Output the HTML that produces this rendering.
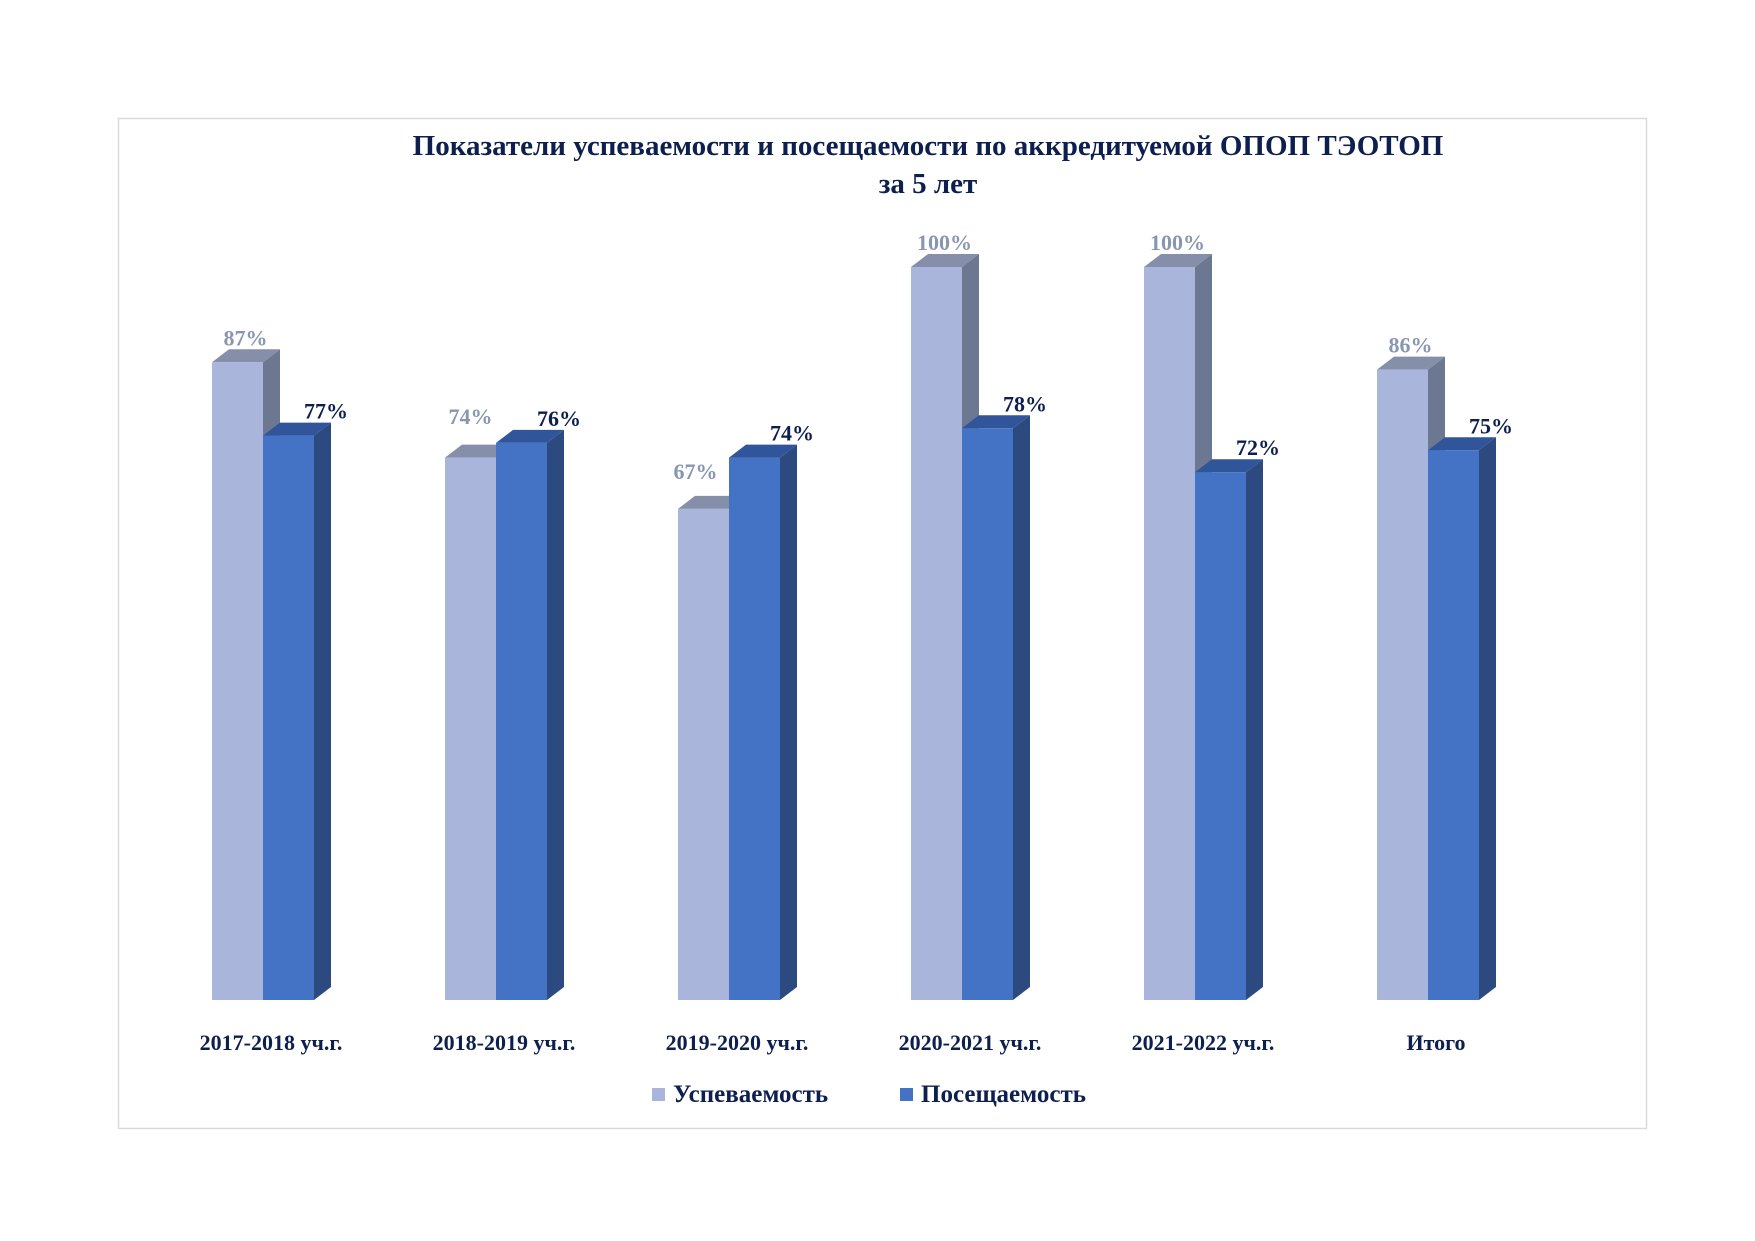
<!DOCTYPE html>
<html><head><meta charset="utf-8"><style>
html,body{margin:0;padding:0;background:#fff;}
svg{display:block;}
text{font-family:"Liberation Serif",serif;font-weight:bold;}
</style></head><body>
<svg id="chart" width="1755" height="1241" viewBox="0 0 1755 1241">
<rect x="118.5" y="118.5" width="1528" height="1010" fill="#fff" stroke="#d9d9d9" stroke-width="1.5"/>
<text x="928" y="155" text-anchor="middle" font-size="29" fill="#0D1F4F">Показатели успеваемости и посещаемости по аккредитуемой ОПОП ТЭОТОП</text>
<text x="928" y="193" text-anchor="middle" font-size="29" fill="#0D1F4F">за 5 лет</text>
<g id="bars"></g>
<g>
<rect x="652" y="1088" width="13" height="13" fill="#A9B5DA"/>
<text x="673" y="1102" font-size="25" fill="#0D1F4F">Успеваемость</text>
<rect x="900" y="1088" width="13" height="13" fill="#4472C4"/>
<text x="921" y="1102" font-size="25" fill="#0D1F4F">Посещаемость</text>
</g>
</svg>
<script>
const categories = ["2017-2018 уч.г.","2018-2019 уч.г.","2019-2020 уч.г.","2020-2021 уч.г.","2021-2022 уч.г.","Итого"];
const uspevaemost = [87,74,67,100,100,86];
const poseshchaemost = [77,76,74,78,72,75];
const ns="http://www.w3.org/2000/svg";
const g=document.getElementById('bars');
const baseY=1000, plotH=733, x0=212, step=233, bw=51, dx=17, dy=13;
function yScale(v){return baseY-v/100*plotH;}
function el(tag,attrs){const e=document.createElementNS(ns,tag);for(const k in attrs)e.setAttribute(k,attrs[k]);g.appendChild(e);return e;}
function bar3d(x,v,front,side,top,name){
  const y=yScale(v);
  const s=el('polygon',{points:`${x+bw},${y} ${x+bw+dx},${y-dy} ${x+bw+dx},${baseY-dy} ${x+bw},${baseY}`,fill:side});
  
  
  const t=el('polygon',{points:`${x},${y} ${x+dx},${y-dy} ${x+bw+dx},${y-dy} ${x+bw},${y}`,fill:top});
  
  
  const f=el('rect',{x:x,y:y,width:bw,height:baseY-y,fill:front});
  
  
  return y;
}
categories.forEach((c,i)=>{
  const gx=x0+i*step;
  const y1=bar3d(gx,uspevaemost[i],'#A9B5DA','#6C7891','#858FAA','bar-uspevaemost-'+i);
  const y2=bar3d(gx+bw,poseshchaemost[i],'#4472C4','#2C4A80','#30559A','bar-poseshchaemost-'+i);
  // light label (shift left if overlaps dark bar)
  let lx=gx+bw/2+8, ly=y1-dy-4;
  if(poseshchaemost[i]>=uspevaemost[i]-3){lx=gx+bw/2; ly=Math.min(y1,y2)-dy-6; if(uspevaemost[i]<poseshchaemost[i]-3){ly=y1-30;lx=gx+bw/2-8;}}
  const t1=el('text',{x:lx,y:ly,'text-anchor':'middle','font-size':'22',fill:'#8896B0','font-weight':'normal'});
  t1.textContent=uspevaemost[i]+'%';
  
  
  const t2=el('text',{x:gx+2*bw+12,y:y2-dy-4,'text-anchor':'middle','font-size':'22',fill:'#0D1F4F'});
  t2.textContent=poseshchaemost[i]+'%';
  
  
  const tc=el('text',{x:gx+bw+8,y:1050,'text-anchor':'middle','font-size':'22',fill:'#0D1F4F'});
  tc.textContent=c;
  
  
});
</script>
</body></html>
